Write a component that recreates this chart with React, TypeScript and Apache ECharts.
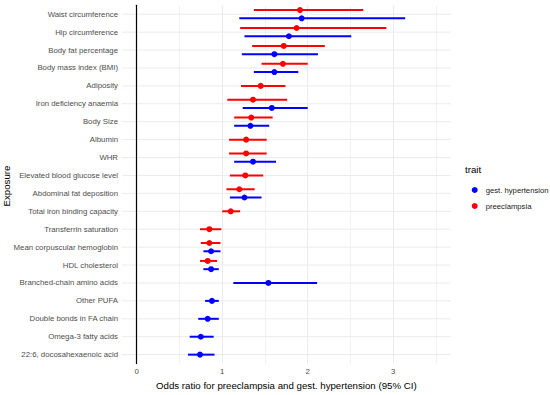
import React, { useEffect, useRef } from 'react';
import * as echarts from 'echarts';

const categories = [
  'Waist circumference',
  'Hip circumference',
  'Body fat percentage',
  'Body mass index (BMI)',
  'Adiposity',
  'Iron deficiency anaemia',
  'Body Size',
  'Albumin',
  'WHR',
  'Elevated blood glucose level',
  'Abdominal fat deposition',
  'Total iron binding capacity',
  'Transferrin saturation',
  'Mean corpuscular hemoglobin',
  'HDL cholesterol',
  'Branched-chain amino acids',
  'Other PUFA',
  'Double bonds in FA chain',
  'Omega-3 fatty acids',
  '22:6, docosahexaenoic acid',
];

// preeclampsia
const preOR = [1.91, 1.87, 1.72, 1.71, 1.45, 1.36, 1.34, 1.28, 1.28, 1.27, 1.2, 1.1, 0.85, 0.85, 0.83, null, null, null, null, null];
const preLo = [1.37, 1.21, 1.35, 1.46, 1.22, 1.06, 1.14, 1.08, 1.08, 1.09, 1.05, 1.0, 0.74, 0.75, 0.74, null, null, null, null, null];
const preHi = [2.65, 2.92, 2.2, 2.0, 1.74, 1.76, 1.59, 1.52, 1.52, 1.48, 1.38, 1.21, 0.99, 0.98, 0.94, null, null, null, null, null];

// gestational hypertension
const ghOR = [1.93, 1.78, 1.61, 1.61, null, 1.58, 1.33, null, 1.36, null, 1.26, null, null, 0.87, 0.87, 1.54, 0.88, 0.83, 0.75, 0.74];
const ghLo = [1.2, 1.26, 1.23, 1.37, null, 1.24, 1.14, null, 1.14, null, 1.09, null, null, 0.78, 0.78, 1.13, 0.8, 0.72, 0.62, 0.6];
const ghHi = [3.14, 2.51, 2.12, 1.89, null, 2.0, 1.55, null, 1.63, null, 1.46, null, null, 0.98, 0.96, 2.11, 0.96, 0.96, 0.9, 0.91];

const xTicks = [0, 1, 2, 3];
const traits = ['gest. hypertension', 'preeclampsia'];
const traitColors = ['#0000FF', '#FF0000'];

const FONT = 'Liberation Sans, Arial, Helvetica, sans-serif';

export default function App() {
  const ref = useRef<HTMLDivElement>(null);

  useEffect(() => {
    document.body.style.margin = '0';
    if (!ref.current) return;
    const chart = echarts.init(ref.current, undefined, { renderer: 'svg' });

    const hasBoth = categories.map((_, i) => preOR[i] != null && ghOR[i] != null);
    const PANEL_MIN = -0.175;
    const PANEL_MAX = 3.675;

    const build = (or: (number | null)[], lo: (number | null)[], hi: (number | null)[]) =>
      categories
        .map((_, i) => (or[i] == null ? null : [lo[i], hi[i], or[i], i]))
        .filter((d) => d != null);

    const makeRender = (color: string, sign: number) => (params: any, api: any) => {
      const lo = api.value(0);
      const hi = api.value(1);
      const or = api.value(2);
      const idx = api.value(3);
      const c0 = api.coord([0, idx]);
      const c1 = api.coord([0, idx + 1]);
      const band = Math.abs(c1[1] - c0[1]);
      const dy = hasBoth[idx] ? sign * band * 0.23 : 0;
      const a = api.coord([lo, idx]);
      const b = api.coord([hi, idx]);
      const c = api.coord([or, idx]);
      return {
        type: 'group',
        children: [
          {
            type: 'line',
            shape: { x1: a[0], y1: a[1] + dy, x2: b[0], y2: b[1] + dy },
            style: { stroke: color, lineWidth: 2 },
          },
          {
            type: 'circle',
            shape: { cx: c[0], cy: c[1] + dy, r: 3 },
            style: { fill: color },
          },
        ],
      };
    };

    const option: any = {
      animation: false,
      grid: { left: 136.7, right: 114.05, top: 5.25, bottom: 27.95, containLabel: false },
      xAxis: {
        type: 'value',
        min: 0,
        max: 3.5,
        interval: 0.5,
        axisLine: { show: false },
        axisTick: { show: false },
        axisLabel: {
          formatter: (v: number) => (xTicks.includes(v) ? String(v) : ''),
          color: '#4d4d4d',
          fontSize: 7.8,
          fontFamily: FONT,
          margin: 3.5,
        },
        splitLine: { show: true, lineStyle: { color: ['#ebebeb', '#f2f2f2'], width: 1 } },
        name: 'Odds ratio for preeclampsia and gest. hypertension (95% CI)',
        nameLocation: 'middle',
        nameGap: 13,
        nameTextStyle: { color: '#000', fontSize: 9.7, fontFamily: FONT },
      },
      yAxis: {
        type: 'category',
        data: categories,
        inverse: true,
        z: 2,
        axisLine: { show: true, lineStyle: { color: '#000', width: 1.2 } },
        axisTick: { show: false },
        splitLine: { show: false },
        axisLabel: { color: '#4d4d4d', fontSize: 7.8, fontFamily: FONT, margin: 18.7 },
      },
      legend: {
        data: traits,
        orient: 'vertical',
        left: 466.7,
        top: 180,
        itemWidth: 12,
        itemHeight: 6,
        itemGap: 6,
        icon: 'circle',
        selectedMode: false,
        textStyle: { fontSize: 7.7, color: '#1a1a1a', fontFamily: FONT, lineHeight: 10 },
      },
      graphic: [
        {
          type: 'text',
          x: 465,
          y: 169,
          style: { text: 'trait', fontSize: 9.7, fontFamily: FONT, fill: '#000', align: 'left', verticalAlign: 'middle' },
        },
        {
          type: 'text',
          x: 6.5,
          y: 186,
          rotation: Math.PI / 2,
          style: { text: 'Exposure', fontSize: 9.7, fontFamily: FONT, fill: '#000', align: 'center', verticalAlign: 'middle' },
        },
      ],
      series: [
        {
          type: 'custom',
          name: 'rows',
          silent: true,
          z: 1,
          encode: { x: [0, 1], y: 2 },
          data: categories.map((_, i) => [PANEL_MIN, PANEL_MAX, i]),
          renderItem: (params: any, api: any) => {
            const a = api.coord([api.value(0), api.value(2)]);
            const b = api.coord([api.value(1), api.value(2)]);
            return {
              type: 'line',
              shape: { x1: a[0], y1: a[1], x2: b[0], y2: b[1] },
              style: { stroke: '#ebebeb', lineWidth: 1 },
            };
          },
        },
        {
          type: 'custom',
          name: traits[0],
          z: 3,
          itemStyle: { color: traitColors[0] },
          encode: { x: [0, 1, 2], y: 3 },
          data: build(ghOR, ghLo, ghHi),
          renderItem: makeRender(traitColors[0], 1),
        },
        {
          type: 'custom',
          name: traits[1],
          z: 3,
          itemStyle: { color: traitColors[1] },
          encode: { x: [0, 1, 2], y: 3 },
          data: build(preOR, preLo, preHi),
          renderItem: makeRender(traitColors[1], -1),
        },
      ],
    };

    chart.setOption(option);
    return () => chart.dispose();
  }, []);

  return (
    <div
      ref={ref}
      style={{ position: 'fixed', left: 0, top: 0, width: 550, height: 395, background: '#fff' }}
    />
  );
}
